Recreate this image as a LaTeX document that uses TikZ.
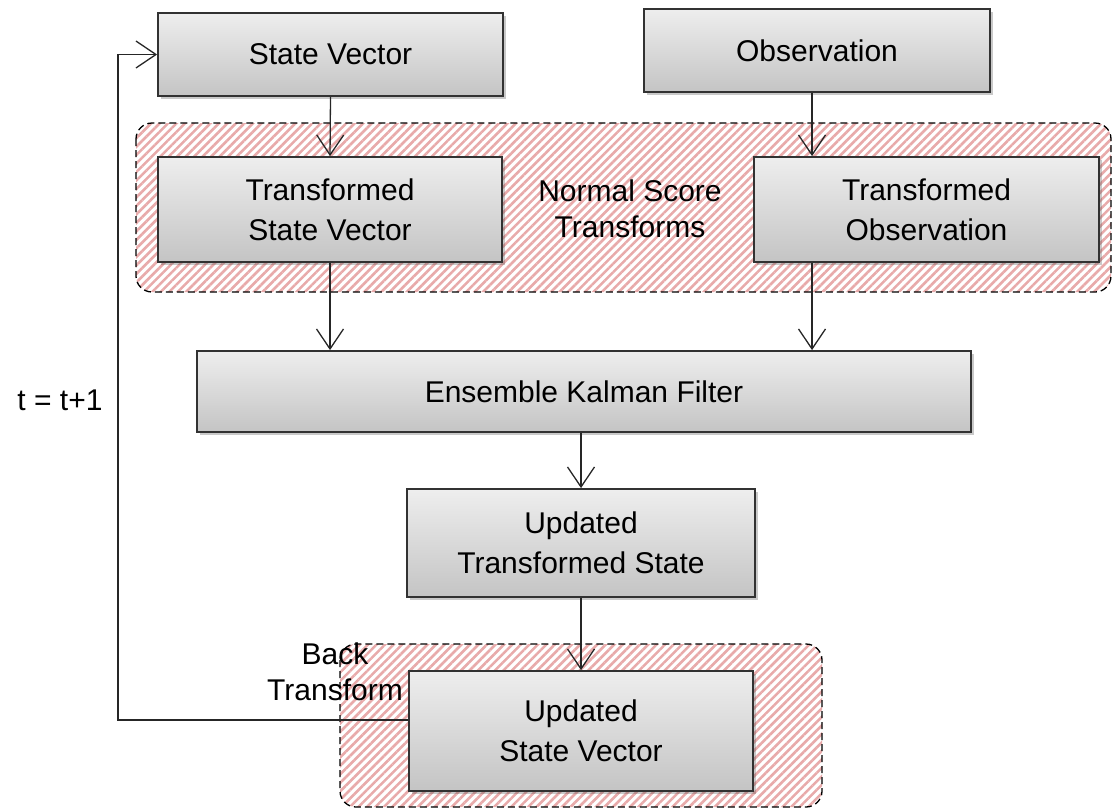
\documentclass[tikz,border=0pt]{standalone}
\usepackage{fontspec}
\setmainfont{Liberation Sans}
\usetikzlibrary{arrows.meta,shadows,patterns.meta}
\definecolor{hatch}{RGB}{232,170,170}
\definecolor{boxtop}{RGB}{238,238,238}
\definecolor{boxbot}{RGB}{196,196,196}
\definecolor{edge}{RGB}{50,50,50}
\tikzset{
  blockbox/.style={draw=edge,line width=1.8pt,top color=boxtop,bottom color=boxbot,
    drop shadow={shadow xshift=3pt,shadow yshift=-3pt,opacity=0.3,fill=black!70},
    inner sep=0pt,align=center,font=\fontsize{30}{40}\selectfont},
  region/.style={draw=black,line width=1.3pt,dash pattern=on 7pt off 4pt,rounded corners=16pt,
    pattern={Lines[angle=45,distance=6pt,line width=2.6pt]},pattern color=hatch},
  arr/.style={line width=1.3pt,draw=black!85,-{Straight Barb[length=20pt,width=27pt,line width=1.3pt]}},
  lbl/.style={align=center,inner sep=0pt,font=\fontsize{30}{36}\selectfont}
}
\begin{document}
\begin{tikzpicture}[x=1pt,y=-1pt]
\useasboundingbox (0,0) rectangle (1113,809);
% regions
\draw[region] (136,123) rectangle (1111,292);
\draw[region] (340,644) rectangle (822,807);
% boxes
\node[blockbox,minimum width=345pt,minimum height=83pt] (sv) at (330.5,54.5) {State Vector};
\node[blockbox,minimum width=346pt,minimum height=83pt] (obs) at (817,50.5) {Observation};
\node[blockbox,minimum width=344pt,minimum height=105pt] (tsv) at (330,209.5) {Transformed\\State Vector};
\node[blockbox,minimum width=345pt,minimum height=105pt] (tobs) at (926.5,209.5) {Transformed\\Observation};
\node[lbl] (nst) at (630,209) {Normal Score\\Transforms};
\node[blockbox,minimum width=774pt,minimum height=81pt] (ekf) at (584,391.5) {Ensemble Kalman Filter};
\node[blockbox,minimum width=348pt,minimum height=108pt] (uts) at (581,543) {Updated\\Transformed State};
\node[blockbox,minimum width=344pt,minimum height=120pt] (usv) at (581,731) {Updated\\State Vector};
\node[lbl] (bt) at (335,672) {Back\\Transform};
\node[lbl,anchor=base] (tt) at (60,410) {t = t+1};
% connectors
\coordinate (ox) at (812,0);
\coordinate (lx) at (118,0);
\draw[arr] (sv.south) -- (tsv.north);
\draw[arr] (obs.south -| ox) -- (tobs.north -| ox);
\draw[arr] (tsv.south) -- (tsv.south |- ekf.north);
\draw[arr] (tobs.south -| ox) -- (ekf.north -| ox);
\draw[arr] (ekf.south -| uts.north) -- (uts.north);
\draw[arr] (uts.south) -- (usv.north);
\draw[arr] ([yshift=11pt]usv.west) -| (lx |- sv.west) -- (sv.west);
\end{tikzpicture}
\end{document}
